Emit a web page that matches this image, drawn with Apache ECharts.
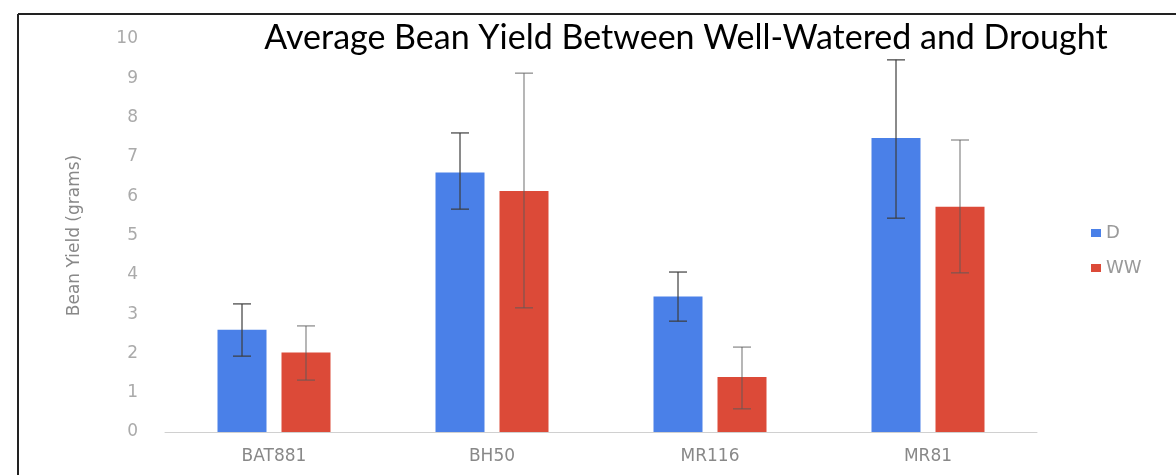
<!DOCTYPE html>
<html>
<head>
<meta charset="utf-8">
<script src="https://cdn.jsdelivr.net/npm/echarts@6/dist/echarts.min.js"></script>
<style>
  html, body { margin: 0; padding: 0; background: #fff; }
  #main { width: 1176px; height: 475px; }
</style>
</head>
<body>
<div id="main"></div>
<script>
// 品种
var categories = ['BAT881', 'BH50', 'MR116', 'MR81']
// D = drought, WW = well-watered
var dMean = [2.6, 6.6, 3.45, 7.48]
var dLow = [1.93, 5.67, 2.82, 5.44]
var dHigh = [3.26, 7.61, 4.07, 9.47]
var wwMean = [2.02, 6.13, 1.4, 5.73]
var wwLow = [1.32, 3.16, 0.59, 4.05]
var wwHigh = [2.7, 9.13, 2.16, 7.43]

var barW = 49
var gapPx = 15

// 误差线
function errorBar (offset, color) {
  return function (params, api) {
    var i = api.value(0)
    var lo = api.coord([i, api.value(1)])
    var hi = api.coord([i, api.value(2)])
    var x = lo[0] + offset
    var cap = 9
    var style = { stroke: color, lineWidth: 1.6 }
    return {
      type: 'group',
      children: [
        { type: 'line', shape: { x1: x, y1: lo[1], x2: x, y2: hi[1] }, style: style },
        { type: 'line', shape: { x1: x - cap, y1: hi[1], x2: x + cap, y2: hi[1] }, style: style },
        { type: 'line', shape: { x1: x - cap, y1: lo[1], x2: x + cap, y2: lo[1] }, style: style }
      ]
    }
  }
}

function errData (lo, hi) {
  return lo.map(function (v, i) { return [i, v, hi[i]] })
}

var shift = (barW + gapPx) / 2

var myChart = echarts.init(document.getElementById('main'))
var option = {
  backgroundColor: '#fff',
  title: {
    text: 'Average Bean Yield Between Well-Watered and Drought',
    left: 681,
    top: 16,
    textAlign: 'center',
    textStyle: {
      fontFamily: 'Lato',
      fontSize: 34,
      fontWeight: 'normal',
      color: '#000'
    }
  },
  legend: {
    orient: 'vertical',
    left: 1086,
    top: 219,
    itemWidth: 10,
    itemHeight: 8,
    itemGap: 17,
    icon: 'rect',
    data: ['D', 'WW'],
    textStyle: { color: '#999', fontSize: 18, fontFamily: 'DejaVu Sans' }
  },
  grid: { left: 165, right: 139, top: 39, bottom: 43 },
  xAxis: {
    type: 'category',
    data: categories,
    axisTick: { show: false },
    axisLine: { lineStyle: { color: '#d0d0d0' } },
    axisLabel: { color: '#888', fontSize: 17, margin: 16, fontFamily: 'DejaVu Sans' }
  },
  yAxis: {
    type: 'value',
    min: 0,
    max: 10,
    interval: 1,
    name: 'Bean Yield (grams)',
    nameLocation: 'middle',
    nameGap: 82,
    nameTextStyle: { color: '#888', fontSize: 17, fontFamily: 'DejaVu Sans' },
    splitLine: { show: false },
    axisLine: { show: false },
    axisTick: { show: false },
    axisLabel: { color: '#aaa', fontSize: 17, margin: 27, fontFamily: 'DejaVu Sans' }
  },
  graphic: [
    { type: 'line', shape: { x1: 18, y1: 14, x2: 1176, y2: 14 }, style: { stroke: '#222', lineWidth: 2 } },
    { type: 'line', shape: { x1: 18, y1: 14, x2: 18, y2: 475 }, style: { stroke: '#222', lineWidth: 2 } }
  ],
  series: [
    {
      name: 'D',
      type: 'bar',
      data: dMean,
      barWidth: barW,
      barGap: (gapPx / barW * 100) + '%',
      itemStyle: { color: '#4a80e8' }
    },
    {
      name: 'WW',
      type: 'bar',
      data: wwMean,
      barWidth: barW,
      itemStyle: { color: '#dc4a38' }
    },
    {
      type: 'custom',
      renderItem: errorBar(-shift, 'rgba(60,60,60,0.75)'),
      data: errData(dLow, dHigh),
      encode: { x: 0, y: [1, 2] },
      z: 5
    },
    {
      type: 'custom',
      renderItem: errorBar(shift, 'rgba(90,90,90,0.55)'),
      data: errData(wwLow, wwHigh),
      encode: { x: 0, y: [1, 2] },
      z: 5
    }
  ]
}
myChart.setOption(option)
</script>
</body>
</html>
